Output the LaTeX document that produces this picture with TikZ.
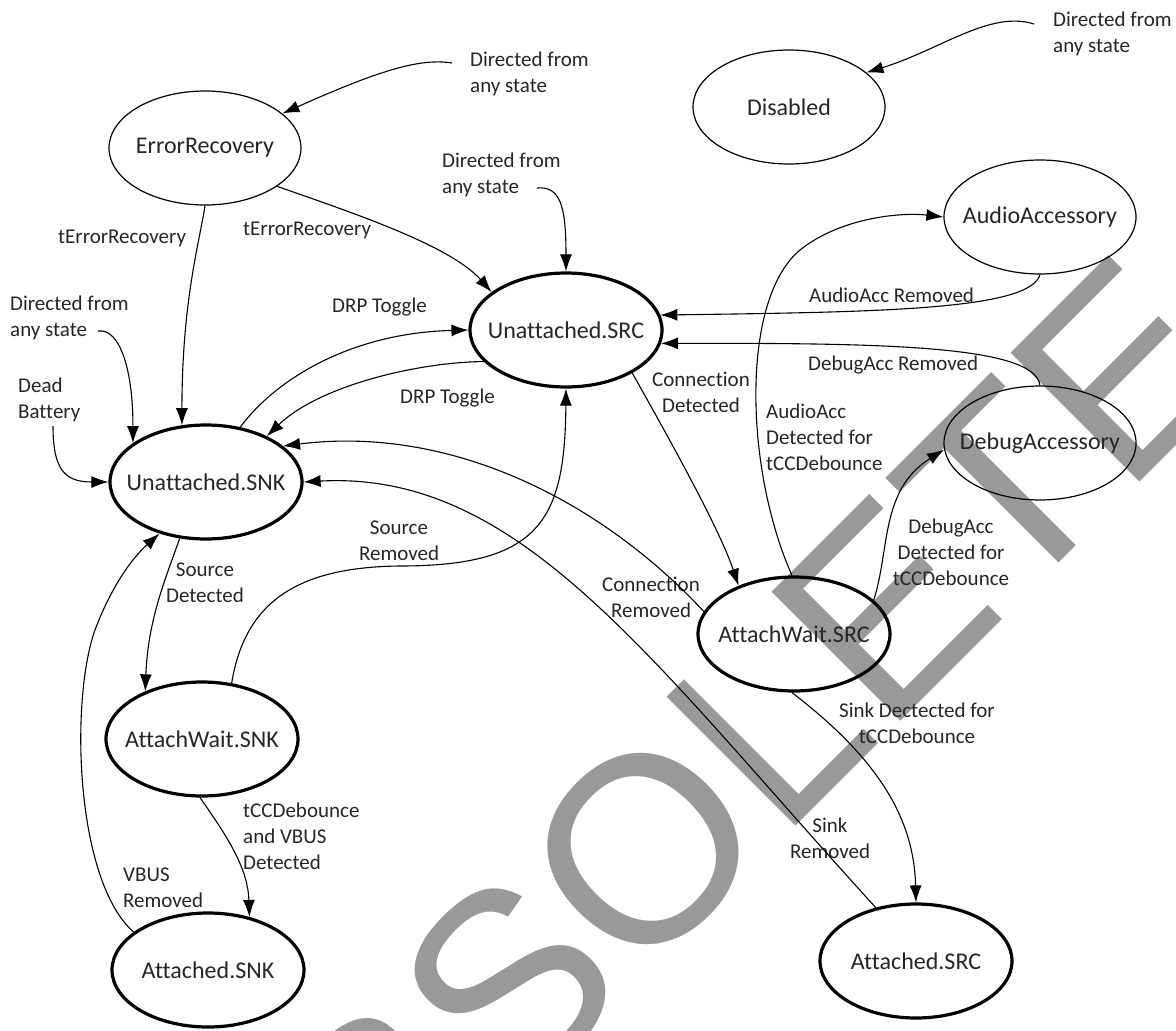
\documentclass[tikz,border=0pt]{standalone}
\usepackage{fontspec}
\setmainfont{Carlito}[Ligatures=CommonOff]
\newfontfamily\wmfont{Liberation Sans}
\usetikzlibrary{shapes.geometric,arrows.meta}
\tikzset{
  st/.style={ellipse, draw=black, line width=1.2pt, inner sep=0pt,
    minimum width=192pt, minimum height=114pt,
    font=\fontsize{24}{28}\selectfont, text=black!85},
  stt/.style={st, line width=3.2pt},
  lab/.style={font=\fontsize{21}{26}\selectfont, inner sep=0pt, text=black!85},
  arr/.style={-{Latex[length=17pt,width=12pt]}, line width=1.1pt},
  wm/.style={font=\wmfont\fontsize{265}{265}\selectfont, text=black!40, inner sep=0pt, rotate=45}
}
\begin{document}
\begin{tikzpicture}[x=1pt,y=-1pt]
\useasboundingbox (0,0) rectangle (1176,1031);
\fill[white] (0,0) rectangle (1176,1031);
\clip (0,0) rectangle (1176,1031);
% watermark
\node[wm] (wmark) at (680,813) {OBSOLETE};
% states
\node[st]  (ER)    at (205,148) {\makebox[0pt]{ErrorRecovery}};
\node[st]  (DIS)   at (789,107) {\makebox[0pt]{Disabled}};
\node[stt] (USRC)  at (566,330) {\makebox[0pt]{Unattached.SRC}};
\node[st]  (AA)    at (1040,217) {\makebox[0pt]{AudioAccessory}};
\node[st]  (DA)    at (1040,443) {\makebox[0pt]{DebugAccessory}};
\node[stt] (USNK)  at (206,482) {\makebox[0pt]{Unattached.SNK}};
\node[stt] (AWSRC) at (794,634) {\makebox[0pt]{AttachWait.SRC}};
\node[stt] (AWSNK) at (202,739) {\makebox[0pt]{AttachWait.SNK}};
\node[stt] (ASNK)  at (208,970) {\makebox[0pt]{Attached.SNK}};
\node[stt] (ASRC)  at (916,961) {\makebox[0pt]{Attached.SRC}};
% labels
\node[lab, anchor=west, align=left] (t1) at (470,74) {Directed from\\any state};
\node[lab, anchor=west, align=left] (t2) at (1053,34) {Directed from\\any state};
\node[lab, anchor=west, align=left] (t3) at (442,175) {Directed from\\any state};
\node[lab, anchor=west, align=left] (t4) at (10,318) {Directed from\\any state};
\node[lab, anchor=west, align=left] (t5) at (18,400) {Dead\\Battery};
\node[lab, anchor=west] (t6) at (58,238) {tErrorRecovery};
\node[lab, anchor=west] (t7) at (243,230) {tErrorRecovery};
\node[lab, anchor=west] (t8) at (332,307) {DRP Toggle};
\node[lab, anchor=west] (t9) at (400,398) {DRP Toggle};
\node[lab, align=center] (t10) at (701,392) {Connection\\Detected};
\node[lab, anchor=west] (t11) at (809,295) {AudioAcc Removed};
\node[lab, anchor=west] (t12) at (808,365) {DebugAcc Removed};
\node[lab, anchor=west, align=left] (t13) at (766,437) {AudioAcc\\Detected for\\tCCDebounce};
\node[lab, align=center] (t14) at (951,552) {DebugAcc\\Detected for\\tCCDebounce};
\node[lab, align=center] (t15) at (399,541) {Source\\Removed};
\node[lab, align=center] (t16) at (205,583) {Source\\Detected};
\node[lab, align=center] (t17) at (651,597) {Connection\\Removed};
\node[lab, align=center] (t18) at (917,723) {Sink Dectected for\\tCCDebounce};
\node[lab, align=center] (t19) at (830,838) {Sink\\Removed};
\node[lab, anchor=west, align=left] (t20) at (243,836) {tCCDebounce\\and VBUS\\Detected};
\node[lab, anchor=west, align=left] (t21) at (123,888) {VBUS\\Removed};
% free ends
\coordinate (d1) at (452,63);
\coordinate (d2) at (1034,24);
\coordinate (d3) at (537,188);
\coordinate (d4) at (98,331);
\coordinate (db) at (53,426);
% connectors
\draw[arr] (d1) .. controls (420,58) and (380,70) .. (ER.24);
\draw[arr] (d2) .. controls (990,10) and (940,50) .. (DIS.24);
\draw[arr] (d3) .. controls (560,186) and (566,205) .. (USRC.90);
\draw[arr] (d4) .. controls (120,328) and (133,370) .. (USNK.152);
\draw[arr] (db) .. controls (53,470) and (65,482) .. (USNK.180);
\draw[arr] (ER.270) .. controls (200,240) and (182,300) .. (USNK.113);
\draw[arr] (ER.332) .. controls (350,212) and (450,245) .. (USRC.153);
\draw[arr] (USNK.58) .. controls (275,380) and (350,333) .. (USRC.180);
\draw[arr] (USRC.201) .. controls (420,362) and (320,385) .. (USNK.37);
\draw[arr] (AWSRC.166) .. controls (600,500) and (450,425) .. (USNK.25);
\draw[arr] (ASRC.127) .. controls (650,660) and (520,470) .. (USNK.0);
\draw[arr] (USNK.245) .. controls (165,580) and (148,620) .. (AWSNK.140);
\draw[arr] (ASNK.153) .. controls (75,880) and (70,700) .. (95,630) .. controls (110,590) and (130,560) .. (USNK.228);
\draw[arr] (AWSNK.268) .. controls (230,840) and (248,870) .. (ASNK.52);
\draw[arr] (AWSNK.62) .. controls (245,600) and (300,567) .. (400,566) .. controls (540,566) and (565,520) .. (USRC.270);
\draw[arr] (USRC.327) .. controls (670,440) and (720,530) .. (AWSRC.139);
\draw[arr] (AA.270) .. controls (1030,310) and (880,312) .. (USRC.9);
\draw[arr] (DA.90) .. controls (1035,345) and (880,343) .. (USRC.352);
\draw[arr] (AWSRC.92) .. controls (745,470) and (740,300) .. (800,250) .. controls (840,218) and (900,212) .. (AA.180);
\draw[arr] (AWSRC.23) .. controls (890,550) and (880,490) .. (DA.184);
\draw[arr] (AWSRC.268) .. controls (880,760) and (914,820) .. (ASRC.90);
\end{tikzpicture}
\end{document}
